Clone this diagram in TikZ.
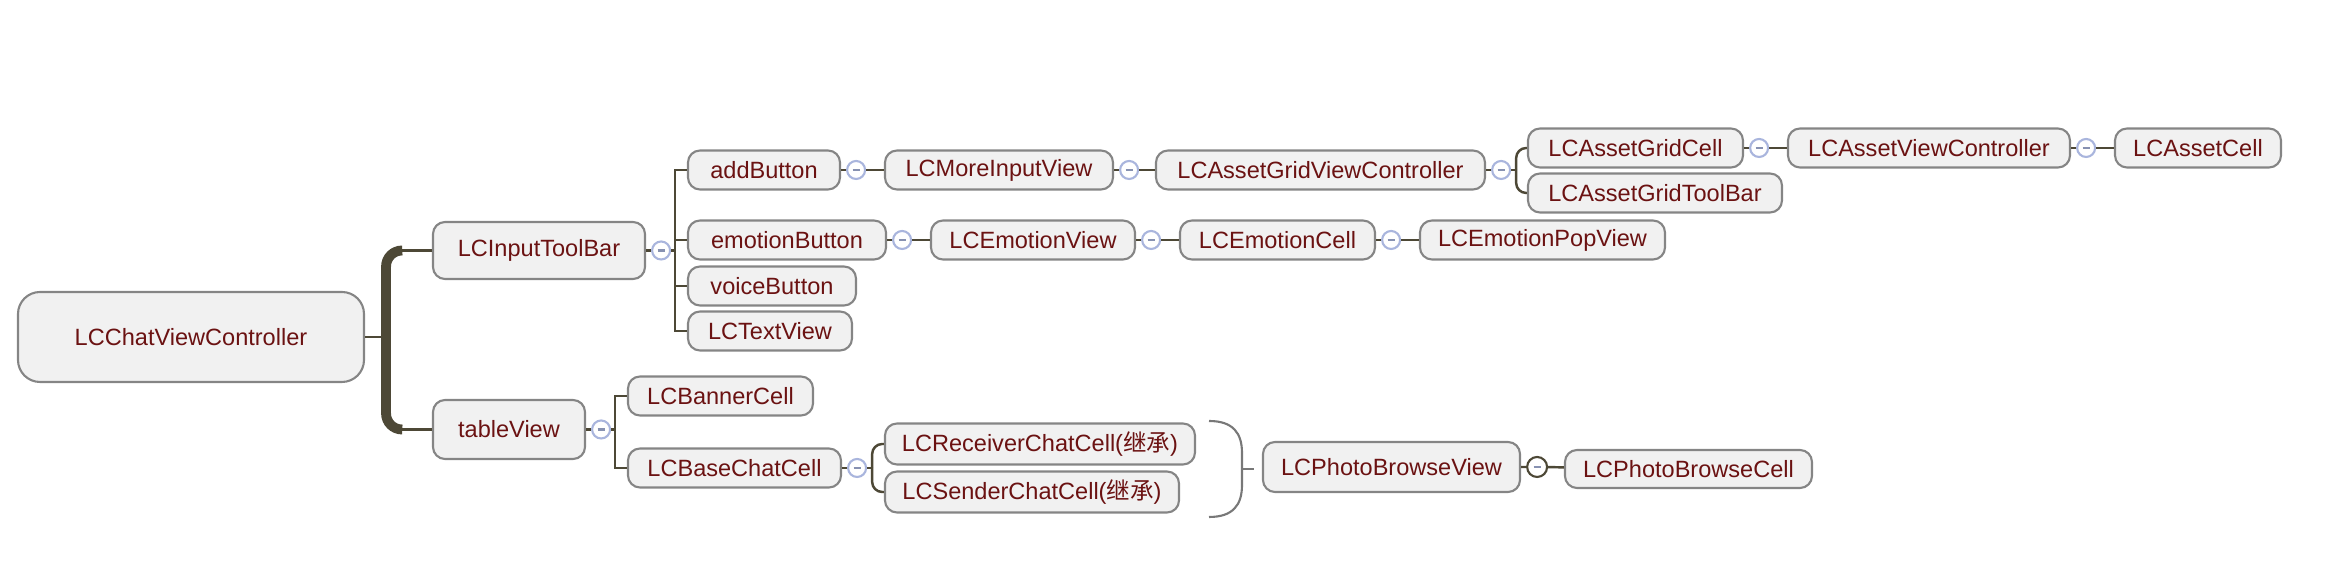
\documentclass[tikz,border=0pt]{standalone}
\usepackage{fontspec}
\setmainfont{Liberation Sans}
\newfontfamily\cjk{Noto Sans CJK SC}
\usetikzlibrary{positioning,calc}
\definecolor{MapText}{HTML}{6B1212}
\definecolor{MapFill}{HTML}{F1F1F1}
\definecolor{MapEdge}{HTML}{858585}
\definecolor{MapLink}{HTML}{4D4836}
\definecolor{MapFold}{HTML}{A9B5DD}
\tikzset{
  topic/.style={draw=MapEdge,fill=MapFill,rounded corners=1.2mm,text=MapText,font=\fontsize{6.7}{8}\selectfont,minimum height=3.9mm,inner sep=0pt,line width=0.6pt},
  roottopic/.style={topic,rounded corners=2.2mm,minimum height=9mm},
  fold/.style={circle,draw=MapFold,fill=white,minimum size=1.8mm,inner sep=0pt,line width=0.6pt,path picture={\draw[MapFold!80!black,line width=0.6pt] ([xshift=-0.35mm]path picture bounding box.center)--([xshift=0.35mm]path picture bounding box.center);}},
  link/.style={draw=MapLink,line width=0.7pt},
  rootbar/.style={draw=MapLink,line width=2.8pt,rounded corners=1.6mm},
  summary/.style={draw=MapEdge!90!black,line width=0.6pt}
}

\begin{document}
\begin{tikzpicture}[x=1cm,y=1cm]
\useasboundingbox (0,0) rectangle (23.52,5.78);
% root and first level
\node[roottopic,minimum width=3.46cm] (root) at (1.91,2.41) {LCChatViewController};
\node[topic,minimum width=2.12cm,minimum height=5.7mm] (lcin) at (5.39,3.275) {LCInputToolBar};
\node[topic,minimum width=1.52cm,minimum height=5.9mm] (tblv) at (5.09,1.485) {tableView};
\coordinate[right=0.21cm of root] (rootbar);
\draw[link] (root) -- (rootbar);
\draw[rootbar] ([xshift=-0.3cm]lcin.west) -| (rootbar) |- ([xshift=-0.3cm]tblv.west);
\draw[link] ([xshift=-0.3cm]lcin.west) -- (lcin.west);
\draw[link] ([xshift=-0.3cm]tblv.west) -- (tblv.west);

% input tool bar branch
\node[topic,minimum width=1.52cm] (addbtn) at (7.64,4.08) {addButton};
\node[topic,minimum width=2.28cm] (moreinput) at (9.99,4.08) {LCMoreInputView};
\node[topic,minimum width=3.29cm] (gridvc) at (13.205,4.08) {LCAssetGridViewController};
\node[topic,minimum width=2.15cm] (gridcell) at (16.355,4.30) {LCAssetGridCell};
\node[topic,minimum width=2.82cm] (assetvc) at (19.29,4.30) {LCAssetViewController};
\node[topic,minimum width=1.66cm] (assetcell) at (21.98,4.30) {LCAssetCell};
\node[topic,minimum width=2.54cm] (gridtool) at (16.55,3.85) {LCAssetGridToolBar};
\node[topic,minimum width=1.98cm] (emobtn) at (7.87,3.38) {emotionButton};
\node[topic,minimum width=2.04cm] (emoview) at (10.33,3.38) {LCEmotionView};
\node[topic,minimum width=1.95cm] (emocell) at (12.775,3.38) {LCEmotionCell};
\node[topic,minimum width=2.45cm] (popview) at (15.425,3.38) {LCEmotionPopView};
\node[topic,minimum width=1.68cm] (voicebtn) at (7.72,2.92) {voiceButton};
\node[topic,minimum width=1.64cm] (textview) at (7.70,2.47) {LCTextView};

\node[fold,right=0.05cm of lcin] (f-lcin) {};
\coordinate[right=0.04cm of f-lcin] (t-lcin);
\draw[link] (lcin) -- (f-lcin) -- (t-lcin);
\foreach \c in {addbtn,emobtn,voicebtn,textview}{\draw[link] (t-lcin) |- (\c.west);}

\node[fold,right=0.05cm of addbtn] (f-add) {};
\node[fold,right=0.05cm of moreinput] (f-more) {};
\node[fold,right=0.05cm of gridvc] (f-grid) {};
\node[fold,right=0.05cm of gridcell] (f-gcell) {};
\node[fold,right=0.05cm of assetvc] (f-avc) {};
\draw[link] (addbtn) -- (f-add) -- (moreinput);
\draw[link] (moreinput) -- (f-more) -- (gridvc);
\draw[link] (gridvc) -- (f-grid);
\coordinate[right=0.05cm of f-grid] (t-grid);
\draw[link] (f-grid) -- (t-grid);
\foreach \c in {gridcell,gridtool}{\draw[link,rounded corners=1mm] (t-grid) |- (\c.west);}
\draw[link] (gridcell) -- (f-gcell) -- (assetvc);
\draw[link] (assetvc) -- (f-avc) -- (assetcell);

\node[fold,right=0.05cm of emobtn] (f-emo) {};
\node[fold,right=0.05cm of emoview] (f-emov) {};
\node[fold,right=0.05cm of emocell] (f-ecell) {};
\draw[link] (emobtn) -- (f-emo) -- (emoview);
\draw[link] (emoview) -- (f-emov) -- (emocell);
\draw[link] (emocell) -- (f-ecell) -- (popview);

% table view branch
\node[topic,minimum width=1.85cm] (banner) at (7.205,1.82) {LCBannerCell};
\node[topic,minimum width=2.13cm] (basecell) at (7.345,1.10) {LCBaseChatCell};
\node[topic,minimum width=3.10cm,minimum height=4.1mm] (recvcell) at (10.40,1.34) {LCReceiverChatCell({\cjk 继承})};
\node[topic,minimum width=2.94cm,minimum height=4.1mm] (sendcell) at (10.32,0.86) {LCSenderChatCell({\cjk 继承})};

\node[fold,right=0.05cm of tblv] (f-tbl) {};
\coordinate[right=0.04cm of f-tbl] (t-tbl);
\draw[link] (tblv) -- (f-tbl) -- (t-tbl);
\foreach \c in {banner,basecell}{\draw[link] (t-tbl) |- (\c.west);}

\node[fold,right=0.05cm of basecell] (f-base) {};
\coordinate[right=0.05cm of f-base] (t-base);
\draw[link] (basecell) -- (f-base) -- (t-base);
\foreach \c in {recvcell,sendcell}{\draw[link,rounded corners=1mm] (t-base) |- (\c.west);}

% summary bracket
\coordinate (sumtop) at (12.09,1.57);
\coordinate (sumbot) at (12.09,0.61);
\coordinate (sumtip) at (12.42,1.09);
\draw[summary] (sumtop) .. controls (12.33,1.57) and (12.42,1.45) .. (12.42,1.25) -- (12.42,0.93) .. controls (12.42,0.73) and (12.33,0.61) .. (sumbot);
\coordinate[right=0.12cm of sumtip] (sumend);
\draw[summary] (sumtip) -- (sumend);

\node[topic,minimum width=2.57cm,minimum height=5mm] (photoview) at (13.915,1.11) {LCPhotoBrowseView};
\node[topic,minimum width=2.47cm,minimum height=3.8mm] (photocell) at (16.885,1.09) {LCPhotoBrowseCell};
\node[fold,draw=MapLink,minimum size=2mm,right=0.05cm of photoview] (f-photo) {};
\draw[link] (photoview) -- (f-photo) -- (photocell);
\end{tikzpicture}
\end{document}
